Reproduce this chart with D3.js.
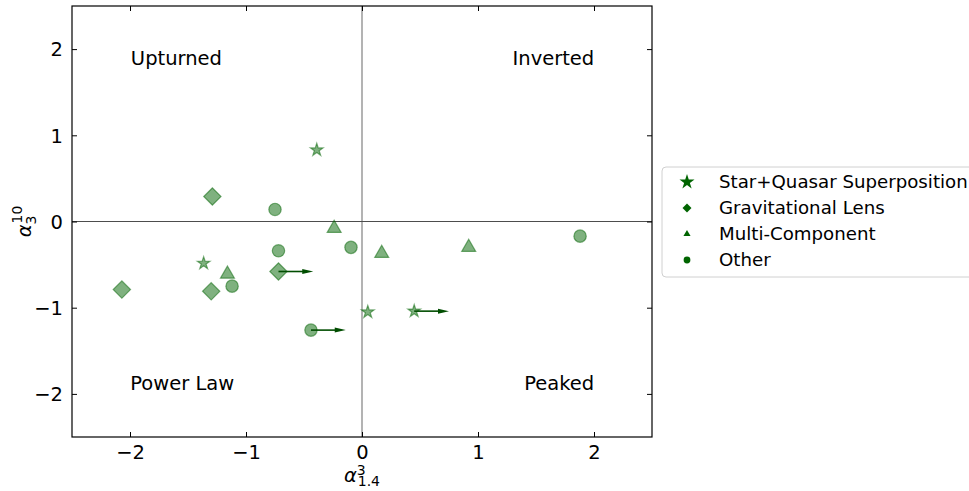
<!DOCTYPE html>
<html><head><meta charset="utf-8">
<script src="https://cdn.jsdelivr.net/npm/d3@7"></script>
<style>
body{margin:0;background:#fff;}
text{font-family:"DejaVu Sans",sans-serif;fill:#000;}
</style></head>
<body><svg id="c" width="969" height="491"></svg>
<script>
// ---- data ----
const xTicks = [-2, -1, 0, 1, 2];
const yTicks = [-2, -1, 0, 1, 2];
const categories = ["Star+Quasar Superposition", "Gravitational Lens", "Multi-Component", "Other"];
const starX = [-0.39, -1.365, 0.05, 0.45];
const starY = [0.83, -0.485, -1.05, -1.04];
const starLim = [false, false, false, true];
const lensX = [-1.29, -2.07, -1.30, -0.72];
const lensY = [0.29, -0.79, -0.81, -0.58];
const lensLim = [false, false, false, true];
const multiX = [-0.24, -1.16, 0.17, 0.92];
const multiY = [-0.08, -0.61, -0.37, -0.30];
const multiLim = [false, false, false, false];
const otherX = [-0.75, -0.72, -0.095, -1.12, -0.44, 1.88];
const otherY = [0.14, -0.34, -0.30, -0.75, -1.26, -0.17];
const otherLim = [false, false, false, false, true, false];
const regionLabels = ["Upturned", "Inverted", "Power Law", "Peaked"];
const regionX = [-1.6, 1.65, -1.55, 1.7];
const regionY = [1.9, 1.9, -1.88, -1.88];
const arrowLength = 0.3;

// ---- layout ----
const svg = d3.select("#c");
const L = 72, R = 652, T = 6, B = 437;
const x = d3.scaleLinear().domain([-2.5, 2.5]).range([L, R]);
const y = d3.scaleLinear().domain([-2.5, 2.5]).range([B, T]);
const green = "#006400";

// reference lines
svg.append("line").attr("x1", x(0)).attr("x2", x(0)).attr("y1", T).attr("y2", B)
  .attr("stroke", "#808080").attr("stroke-width", 1.2);
svg.append("line").attr("x1", L).attr("x2", R).attr("y1", y(0)).attr("y2", y(0))
  .attr("stroke", "#4d4d4d").attr("stroke-width", 1.2);

// axes (ticks inward)
const fs = 19.5;
const xb = svg.append("g").attr("transform", `translate(0,${B})`)
  .call(d3.axisBottom(x).tickValues(xTicks).tickSizeInner(-5).tickSizeOuter(0).tickPadding(8)
    .tickFormat(d => d < 0 ? "\u2212" + Math.abs(d) : d));
const xt = svg.append("g").attr("transform", `translate(0,${T})`)
  .call(d3.axisTop(x).tickValues(xTicks).tickSizeInner(-5).tickSizeOuter(0).tickFormat(""));
const yl = svg.append("g").attr("transform", `translate(${L},0)`)
  .call(d3.axisLeft(y).tickValues(yTicks).tickSizeInner(-5).tickSizeOuter(0).tickPadding(9)
    .tickFormat(d => d < 0 ? "\u2212" + Math.abs(d) : d));
const yr = svg.append("g").attr("transform", `translate(${R},0)`)
  .call(d3.axisRight(y).tickValues(yTicks).tickSizeInner(-5).tickSizeOuter(0).tickFormat(""));
[xb, xt, yl, yr].forEach(g => {
  g.select(".domain").remove();
  g.selectAll("line").attr("stroke", "#000").attr("stroke-width", 1);
  g.selectAll("text").attr("font-size", fs).attr("font-family", "DejaVu Sans").attr("fill", "#000");
});
yl.selectAll("text").attr("dy", "0.35em");
svg.append("rect").attr("x", L).attr("y", T).attr("width", R - L).attr("height", B - T)
  .attr("fill", "none").attr("stroke", "#000").attr("stroke-width", 1.2);

// region labels
regionLabels.forEach((t, i) => {
  svg.append("text").attr("x", x(regionX[i])).attr("y", y(regionY[i])).attr("dy", "0.35em")
    .attr("text-anchor", "middle").attr("font-size", fs).text(t);
});

// symbols
const symStar = d3.symbol().type(d3.symbolStar).size(50);
const symDiam = d3.symbol().type(d3.symbolSquare).size(150);
const symTri = d3.symbol().type(d3.symbolTriangle).size(85);
const symCirc = d3.symbol().type(d3.symbolCircle).size(120);
const groups = [
  {xs: starX, ys: starY, lim: starLim, sym: symStar, rot: 0},
  {xs: lensX, ys: lensY, lim: lensLim, sym: symDiam, rot: 45},
  {xs: multiX, ys: multiY, lim: multiLim, sym: symTri, rot: 0},
  {xs: otherX, ys: otherY, lim: otherLim, sym: symCirc, rot: 0}
];
function arrow(x0, y0) {
  const px0 = x(x0), px1 = x(x0 + arrowLength), py = y(y0);
  svg.append("line").attr("x1", px0).attr("x2", px1 - 8).attr("y1", py).attr("y2", py)
    .attr("stroke", "#004d00").attr("stroke-width", 1.6);
  svg.append("path").attr("d", `M${px1 - 11},${py - 2.5}L${px1},${py}L${px1 - 11},${py + 2.5}Z`)
    .attr("fill", "#004d00");
}
groups.forEach(g => {
  g.xs.forEach((vx, i) => {
    svg.append("path").attr("d", g.sym())
      .attr("transform", `translate(${x(vx)},${y(g.ys[i])}) rotate(${g.rot})`)
      .attr("fill", green).attr("fill-opacity", 0.5)
      .attr("stroke", green).attr("stroke-opacity", 0.5).attr("stroke-width", 1.2);
  });
});
groups.forEach(g => {
  g.xs.forEach((vx, i) => { if (g.lim[i]) arrow(vx, g.ys[i]); });
});

// axis labels
const xlab = svg.append("text").attr("x", x(0)).attr("y", 482).attr("text-anchor", "middle").attr("font-size", 19.5);
xlab.append("tspan").attr("font-style", "italic").text("\u03b1");
xlab.append("tspan").attr("font-size", 14).attr("dy", -7).text("3");
xlab.append("tspan").attr("font-size", 14).attr("dx", -8).attr("dy", 11).text("1.4");
const ylab = svg.append("text").attr("transform", `translate(31,${y(0)}) rotate(-90)`)
  .attr("text-anchor", "middle").attr("font-size", 19.5);
ylab.append("tspan").attr("font-style", "italic").text("\u03b1");
ylab.append("tspan").attr("font-size", 14).attr("dy", 5).text("3");
ylab.append("tspan").attr("font-size", 14).attr("dx", -8).attr("dy", -14).text("10");

// legend
svg.append("rect").attr("x", 662).attr("y", 167).attr("width", 320).attr("height", 110)
  .attr("rx", 4).attr("fill", "#fff").attr("stroke", "#d0d0d0").attr("stroke-width", 1);
const legSyms = [
  {s: d3.symbol().type(d3.symbolStar).size(70), rot: 0},
  {s: d3.symbol().type(d3.symbolSquare).size(40), rot: 45},
  {s: d3.symbol().type(d3.symbolTriangle).size(22), rot: 0},
  {s: d3.symbol().type(d3.symbolCircle).size(36), rot: 0}
];
categories.forEach((c, i) => {
  const yy = 182 + i * 26;
  svg.append("path").attr("d", legSyms[i].s())
    .attr("transform", `translate(687,${yy}) rotate(${legSyms[i].rot})`).attr("fill", green);
  svg.append("text").attr("x", 719).attr("y", yy).attr("dy", "0.35em").attr("font-size", 18.2).text(c);
});
</script></body></html>
